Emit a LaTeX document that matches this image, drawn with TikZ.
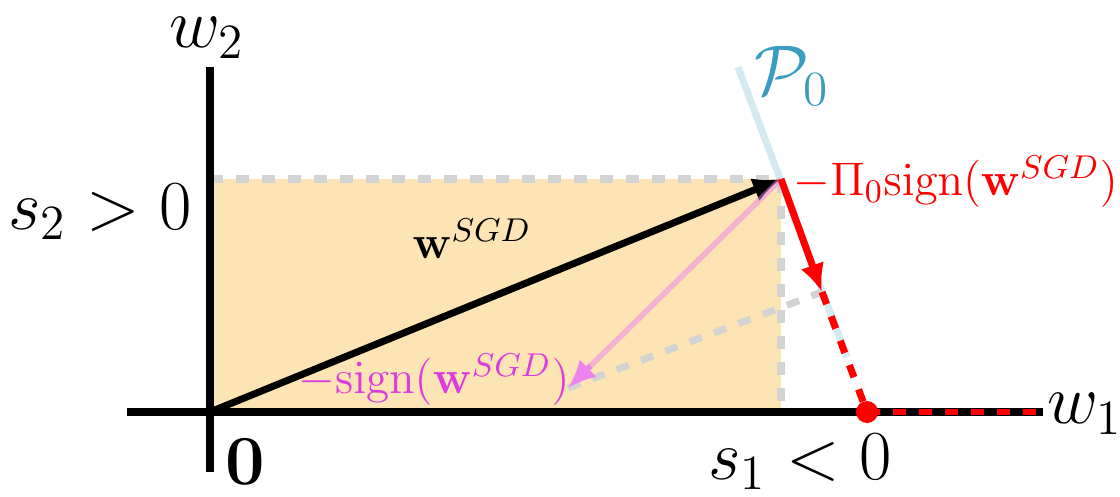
\RequirePackage{fix-cm}
\documentclass[tikz,border=0pt]{standalone}
\usetikzlibrary{arrows.meta,calc}

\definecolor{boxfill}{HTML}{FCE4B4}
\definecolor{guidegray}{HTML}{D3D3D3}
\definecolor{planeblue}{HTML}{D4EAF0}
\definecolor{planetext}{HTML}{3A9CC0}
\definecolor{signtext}{HTML}{DD3BDD}
\definecolor{signarrow}{HTML}{EE82EE}

\begin{document}
\begin{tikzpicture}[font=\fontsize{20}{24}\selectfont, inner sep=0.5pt,
  axis/.style={line width=2pt},
  guide/.style={draw=guidegray, line width=2pt, dash pattern=on 3.7pt off 3.7pt},
  redline/.style={red, line width=2pt},
  tip/.style={-{Latex[length=8pt, width=7pt]}},
  veclabel/.style={font=\fontsize{13.4}{16}\selectfont}]
  \useasboundingbox (0,0) rectangle (11.2,4.96);

  \coordinate (o) at (2.10,0.84);
  \coordinate (w) at (7.81,3.17);
  \coordinate (c) at (7.81,0.84);
  \coordinate (d) at (2.10,3.17);
  \coordinate (p) at (5.68,1.08);
  \coordinate (r) at (8.22,2.04);
  \coordinate (s) at (8.67,0.84);
  \coordinate (top) at (7.38,4.29);
  \coordinate (bot) at (8.47,1.39);
  \coordinate (xl) at (1.27,0.84);
  \coordinate (xr) at (10.43,0.84);
  \coordinate (yt) at (2.10,4.29);
  \coordinate (yb) at (2.10,0.24);
  \coordinate (e) at (10.38,0.84);

  \fill[boxfill] (o) rectangle (w);
  \draw[guide] (d) -- (w) -- (c);
  \draw[axis] (xl) -- (xr);
  \draw[axis] (yt) -- (yb);
  \draw[planeblue, line width=2pt] (top) -- (bot);

  \draw[axis, tip] (o) -- (w);
  \draw[guide] (p) -- (r);
  \draw[signarrow, line width=1.6pt, draw opacity=0.5, shorten >=7pt] (w) -- (p);
  \draw[signarrow, line width=1.6pt, tip] ($(p)!9pt!(w)$) -- (p);
  \draw[redline, tip] (w) -- (r);
  \draw[redline, dash pattern=on 3.7pt off 3.7pt] (r) -- (s);
  \draw[redline, line width=1.6pt, dash pattern=on 3.7pt off 3.7pt] (s) -- (e);
  \fill[red] (s) circle (0.11);

  \node (w2) at (2.07,4.58) {$w_2$};
  \node (w1) at (10.85,0.82) {$w_1$};
  \node (s2) at (1.00,2.84) {$s_2>0$};
  \node (s1) at (8.00,0.34) {$s_1<0$};
  \node (zero) at (2.45,0.34) {$\mathbf{0}$};
  \node[planetext] (plane) at (7.92,4.20) {$\mathcal{P}_0$};
  \node[veclabel] (wsgd) at (4.72,2.57) {$\mathbf{w}^{SGD}$};
  \node[veclabel, red, anchor=west, inner sep=0pt] (proj) at (7.93,3.14) {$-\Pi_0\mathrm{sign}(\mathbf{w}^{SGD})$};
  \node[veclabel, signtext] (sign) at (4.34,1.16) {$-\mathrm{sign}(\mathbf{w}^{SGD})$};
\end{tikzpicture}
\end{document}
